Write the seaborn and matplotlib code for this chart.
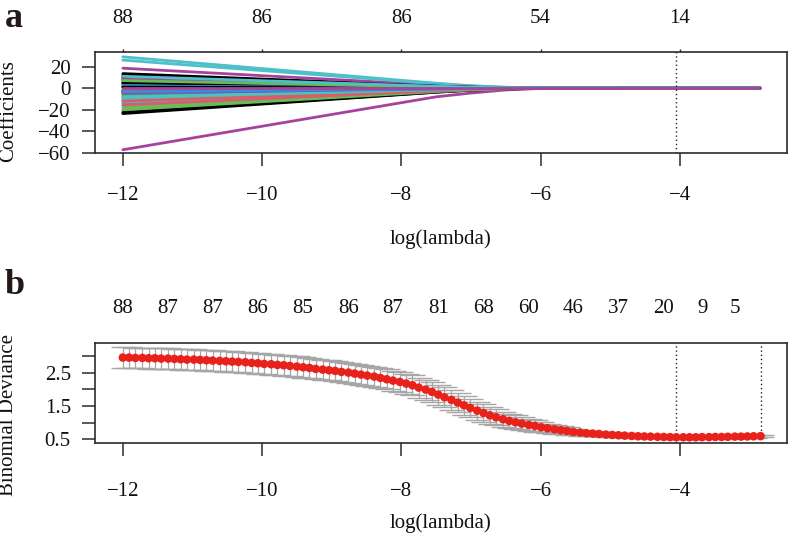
import numpy as np
import pandas as pd
import matplotlib
matplotlib.use("Agg")
import matplotlib.pyplot as plt
import seaborn as sns

# ---------------- data ----------------
# panel a: coefficient paths, values read at these log(lambda) knots
path_knots = [-12.0, -7.5, -7.0, -6.5, -6.0, -2.85]
coef_paths = [
    [13.5, 2.16, 1.08, 0.41, 0.08, 0.0],
    [-8.0, -1.28, -0.64, -0.24, -0.05, 0.0],
    [4.0, 0.64, 0.32, 0.12, 0.02, 0.0],
    [-2.0, -0.32, -0.16, -0.06, -0.01, 0.0],
    [29.0, 4.6, 2.3, 0.87, 0.17, 0.0],
    [18.5, 2.96, 1.48, 0.56, 0.11, 0.0],
    [-23.5, -3.76, -1.88, -0.71, -0.14, 0.0],
    [-21.0, -3.36, -1.68, -0.63, -0.13, 0.0],
    [-18.0, -2.88, -1.44, -0.54, -0.11, 0.0],
    [9.0, 1.44, 0.72, 0.27, 0.05, 0.0],
    [26.0, 4.16, 2.08, 0.78, 0.16, 0.0],
    [-57.0, -8.0, -4.5, -1.6, -0.3, 0.0],
    [12.0, 1.92, 0.96, 0.36, 0.07, 0.0],
    [3.0, 0.48, 0.24, 0.09, 0.02, 0.0],
    [-16.0, -2.56, -1.28, -0.48, -0.10, 0.0],
    [-14.0, -2.24, -1.12, -0.42, -0.08, 0.0],
    [7.0, 1.12, 0.56, 0.21, 0.04, 0.0],
    [10.0, 1.6, 0.80, 0.30, 0.06, 0.0],
    [7.5, 1.2, 0.60, 0.23, 0.05, 0.0],
    [-4.0, -0.64, -0.32, -0.12, -0.02, 0.0],
    [1.5, 0.24, 0.12, 0.05, 0.01, 0.0],
    [-11.0, -1.76, -0.88, -0.33, -0.07, 0.0],
    [-10.0, -1.6, -0.80, -0.30, -0.06, 0.0],
    [-6.5, -1.04, -0.52, -0.20, -0.04, 0.0],
    [-22.5, -3.6, -1.80, -0.68, -0.14, 0.0],
    [6.0, 0.96, 0.48, 0.18, 0.04, 0.0],
    [2.5, 0.40, 0.20, 0.08, 0.02, 0.0],
    [5.5, 0.88, 0.44, 0.17, 0.03, 0.0],
    [-13.0, -2.08, -1.04, -0.39, -0.08, 0.0],
    [3.5, 0.56, 0.28, 0.11, 0.02, 0.0],
    [10.5, 1.68, 0.84, 0.32, 0.06, 0.0],
    [-12.0, -1.92, -0.96, -0.36, -0.07, 0.0],
    [-20.0, -3.2, -1.60, -0.60, -0.12, 0.0],
    [0.5, 0.08, 0.04, 0.02, 0.0, 0.0],
    [4.5, 0.72, 0.36, 0.14, 0.03, 0.0],
    [-2.5, -0.40, -0.20, -0.08, -0.02, 0.0],
    [5.0, 0.80, 0.40, 0.15, 0.03, 0.0],
    [8.5, 1.36, 0.68, 0.26, 0.05, 0.0],
    [-7.0, -1.12, -0.56, -0.21, -0.04, 0.0],
    [-5.0, -0.80, -0.40, -0.15, -0.03, 0.0],
    [-1.0, -0.16, -0.08, -0.03, -0.01, 0.0],
    [8.0, 1.28, 0.64, 0.24, 0.05, 0.0],
    [-3.0, -0.48, -0.24, -0.09, -0.02, 0.0],
    [-15.5, -2.48, -1.24, -0.47, -0.09, 0.0],
    [-9.0, -1.44, -0.72, -0.27, -0.05, 0.0],
    [2.0, 0.32, 0.16, 0.06, 0.01, 0.0],
    [-8.5, -1.36, -0.68, -0.26, -0.05, 0.0],
    [-4.5, -0.72, -0.36, -0.14, -0.03, 0.0],
    [1.0, 0.16, 0.08, 0.03, 0.01, 0.0],
    [-1.5, -0.24, -0.12, -0.05, -0.01, 0.0],
    [7.0, 1.12, 0.56, 0.21, 0.04, 0.0],
    [-3.5, -0.56, -0.28, -0.11, -0.02, 0.0],
    [11.0, 1.76, 0.88, 0.33, 0.07, 0.0],
    [0.0, 0.0, 0.0, 0.0, 0.0, 0.0],
]
top_ticks_a = [-12, -10, -8, -6, -4]
top_labels_a = ["88", "86", "86", "54", "14"]

# panel b: cross-validation curve
log_lambda = [
    -12.00, -11.91, -11.82, -11.72, -11.63, -11.54, -11.45, -11.35, -11.26, -11.17,
    -11.08, -10.98, -10.89, -10.80, -10.71, -10.61, -10.52, -10.43, -10.34, -10.24,
    -10.15, -10.06, -9.97, -9.87, -9.78, -9.69, -9.60, -9.50, -9.41, -9.32,
    -9.23, -9.13, -9.04, -8.95, -8.86, -8.76, -8.67, -8.58, -8.49, -8.39,
    -8.30, -8.21, -8.12, -8.02, -7.93, -7.84, -7.75, -7.65, -7.56, -7.47,
    -7.38, -7.28, -7.19, -7.10, -7.01, -6.91, -6.82, -6.73, -6.64, -6.54,
    -6.45, -6.36, -6.27, -6.17, -6.08, -5.99, -5.90, -5.80, -5.71, -5.62,
    -5.53, -5.43, -5.34, -5.25, -5.16, -5.06, -4.97, -4.88, -4.79, -4.69,
    -4.60, -4.51, -4.42, -4.32, -4.23, -4.14, -4.05, -3.95, -3.86, -3.77,
    -3.68, -3.58, -3.49, -3.40, -3.31, -3.21, -3.12, -3.03, -2.94, -2.84,
]
cv_deviance = [
    2.95, 2.95, 2.94, 2.94, 2.93, 2.93, 2.92, 2.92, 2.91, 2.90,
    2.89, 2.89, 2.88, 2.87, 2.86, 2.85, 2.84, 2.83, 2.82, 2.81,
    2.79, 2.78, 2.76, 2.75, 2.73, 2.72, 2.70, 2.68, 2.66, 2.64,
    2.61, 2.59, 2.57, 2.55, 2.52, 2.50, 2.47, 2.44, 2.41, 2.38,
    2.34, 2.30, 2.26, 2.22, 2.17, 2.12, 2.05, 1.99, 1.92, 1.84,
    1.76, 1.68, 1.60, 1.52, 1.44, 1.36, 1.29, 1.22, 1.16, 1.10,
    1.05, 1.01, 0.97, 0.93, 0.90, 0.86, 0.83, 0.80, 0.77, 0.75,
    0.72, 0.70, 0.68, 0.67, 0.66, 0.64, 0.63, 0.62, 0.61, 0.60,
    0.59, 0.585, 0.58, 0.575, 0.57, 0.565, 0.56, 0.56, 0.56, 0.56,
    0.565, 0.565, 0.57, 0.57, 0.575, 0.58, 0.58, 0.585, 0.59, 0.595,
]
cv_se = [
    0.31, 0.31, 0.31, 0.31, 0.31, 0.31, 0.31, 0.31, 0.31, 0.31,
    0.31, 0.31, 0.31, 0.31, 0.31, 0.31, 0.31, 0.31, 0.31, 0.31,
    0.31, 0.31, 0.31, 0.31, 0.31, 0.31, 0.31, 0.31, 0.31, 0.31,
    0.30, 0.30, 0.30, 0.30, 0.30, 0.30, 0.30, 0.30, 0.30, 0.30,
    0.30, 0.30, 0.30, 0.30, 0.30, 0.30, 0.30, 0.30, 0.30, 0.30,
    0.30, 0.29, 0.29, 0.28, 0.28, 0.27, 0.26, 0.25, 0.24, 0.23,
    0.22, 0.21, 0.20, 0.18, 0.17, 0.15, 0.14, 0.13, 0.12, 0.11,
    0.10, 0.09, 0.08, 0.075, 0.07, 0.065, 0.06, 0.055, 0.05, 0.048,
    0.045, 0.043, 0.04, 0.04, 0.04, 0.04, 0.04, 0.04, 0.04, 0.04,
    0.04, 0.04, 0.04, 0.04, 0.04, 0.04, 0.04, 0.04, 0.04, 0.04,
]
top_pos_b = [-12.00, -11.35, -10.71, -10.06, -9.41, -8.76, -8.12, -7.47,
             -6.82, -6.17, -5.53, -4.88, -4.23, -3.68, -3.21]
top_labels_b = ["88", "87", "87", "86", "85", "86", "87", "81",
                "68", "60", "46", "37", "20", "9", "5"]
lambda_min = -4.05
lambda_1se = -2.84
x_ticks = [-12, -10, -8, -6, -4]

# ---------------- style ----------------
sns.set_theme(style="white")
plt.rcParams["font.family"] = ["Liberation Serif", "DejaVu Serif"]
plt.rcParams["axes.unicode_minus"] = True

r_palette = ["#000000", "#DA5A6E", "#66BD55", "#2E8FDA", "#4EC0C9", "#A6429C"]
spine_col = "#2b2b2b"
txt_col = "#111111"
FS = 15
W, H = 789, 544
fig = plt.figure(figsize=(W / 100, H / 100), dpi=100)

def fx(px):
    return px / W

def fy(py):
    return 1 - py / H

axA = fig.add_axes([fx(95), fy(153), 692 / W, 101 / H])
axB = fig.add_axes([fx(95), fy(443), 692 / W, 100 / H])

# ---------- panel a ----------
rows = []
for j, path in enumerate(coef_paths):
    for xk, v in zip(path_knots, path):
        rows.append({"log_lambda": xk, "coef": v, "var": j})
df_a = pd.DataFrame(rows)
pal = {j: r_palette[j % 6] for j in range(len(coef_paths))}
sns.lineplot(data=df_a, x="log_lambda", y="coef", hue="var", palette=pal,
             estimator=None, sort=False, legend=False, lw=2.0, ax=axA)
axA.axvline(lambda_min, color="#222222", ls=(0, (1, 2)), lw=1.0)
axA.set_xlim(-12.40, -2.46)
axA.set_ylim(-60, 33.5)
axA.set_yticks([-60, -40, -20, 0, 20])
axA.set_xticks(x_ticks)

# ---------- panel b ----------
axB.errorbar(log_lambda, cv_deviance, yerr=cv_se, fmt="none", ecolor="#A6A6A6",
             elinewidth=0.9, capsize=9, capthick=1.0, zorder=2)
sns.scatterplot(x=log_lambda, y=cv_deviance, color="#E8221B", s=38,
                edgecolor="none", linewidth=0, zorder=3, ax=axB)
axB.axvline(lambda_min, color="#222222", ls=(0, (1, 2)), lw=1.0)
axB.axvline(lambda_1se, color="#222222", ls=(0, (1, 2)), lw=1.0)
axB.set_xlim(-12.40, -2.46)
axB.set_ylim(0.389, 3.387)
axB.set_yticks([0.5, 1.0, 1.5, 2.0, 2.5, 3.0])
axB.set_yticklabels(["0.5", "", "1.5", "", "2.5", ""])
axB.set_xticks(x_ticks)

for ax in (axA, axB):
    ax.set_xlabel("")
    ax.set_ylabel("")
    for s in ax.spines.values():
        s.set_color(spine_col)
        s.set_linewidth(1.2)
    ax.tick_params(axis="both", which="major", direction="out", length=9.4,
                   width=1.1, color=spine_col, labelsize=FS, labelcolor=txt_col,
                   left=True, bottom=True)
    ax.tick_params(axis="y", pad=8)
axA.tick_params(axis="x", pad=14)
axB.tick_params(axis="x", pad=19)

# top axes
secA = axA.secondary_xaxis("top")
secA.set_xticks(top_ticks_a, top_labels_a)
secA.tick_params(length=2, width=1.0, color=spine_col, pad=15, labelsize=FS,
                 labelcolor=txt_col)
secA.spines["top"].set_visible(False)

secB = axB.secondary_xaxis("top")
secB.set_xticks(top_pos_b, top_labels_b)
secB.tick_params(length=0, pad=18, labelsize=FS, labelcolor=txt_col)
secB.spines["top"].set_visible(False)

# labels
fig.text(fx(441), fy(239), "log(lambda)", ha="center", va="center", fontsize=FS, color=txt_col)
fig.text(fx(441), fy(523), "log(lambda)", ha="center", va="center", fontsize=FS, color=txt_col)
fig.text(fx(9), fy(60), "Coefficients", ha="center", va="top", rotation=90,
         fontsize=FS, color=txt_col)
fig.text(fx(9), fy(334), "Binomial Deviance", ha="center", va="top", rotation=90,
         fontsize=FS, color=txt_col)
fig.text(fx(14), fy(2), "a", ha="center", va="top", fontsize=26,
         fontweight="bold", color="#231815")
fig.text(fx(15), fy(294), "b", ha="center", va="baseline", fontsize=26,
         fontweight="bold", color="#231815")

fig.savefig("out.png", dpi=100)
